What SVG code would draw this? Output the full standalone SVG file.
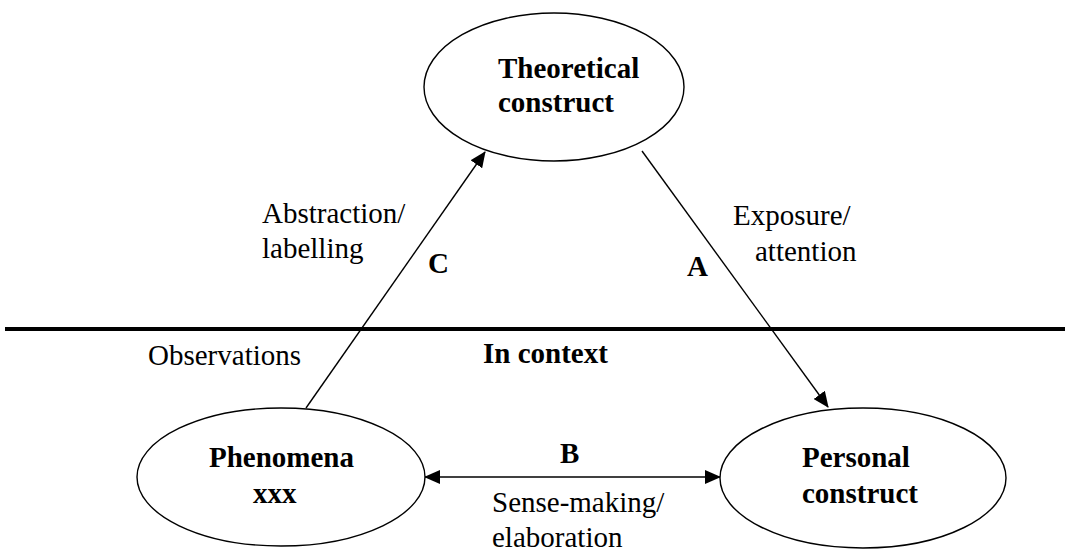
<svg xmlns="http://www.w3.org/2000/svg" width="1065" height="552" viewBox="0 0 1065 552">
<style>
.node ellipse{fill:#fff;stroke:#000;stroke-width:1.4}
text{font-family:'Liberation Serif','Times New Roman','DejaVu Serif',serif;font-size:29px;fill:#000}
.b{font-weight:bold}
.conn line{stroke:#000;stroke-width:1.4;fill:none}
</style>
<defs>
<marker id="ah" markerUnits="userSpaceOnUse" markerWidth="16" markerHeight="14" refX="15" refY="7" orient="auto-start-reverse" viewBox="0 0 16 14">
<path d="M0,0 L16,7 L0,14 z" fill="#000"/>
</marker>
</defs>
<rect width="1065" height="552" fill="#fff"/>
<line x1="5" y1="329" x2="1065" y2="329" stroke="#000" stroke-width="4"/>
<g class="conn">
<line x1="306" y1="408" x2="485" y2="152" marker-end="url(#ah)"/>
<line x1="642" y1="151" x2="828" y2="407" marker-end="url(#ah)"/>
<line x1="425" y1="477" x2="720" y2="477" marker-start="url(#ah)" marker-end="url(#ah)"/>
</g>
<g id="theoretical" class="node">
<ellipse cx="554" cy="87" rx="130" ry="74"/>
<text class="b" x="498" y="78" font-family="Liberation Serif, serif">Theoretical</text>
<text class="b" x="498" y="112" font-family="Liberation Serif, serif">construct</text>
</g>
<g id="phenomena" class="node">
<ellipse cx="281" cy="477" rx="144" ry="69"/>
<text class="b" x="209" y="467" font-family="Liberation Serif, serif">Phenomena</text>
<text class="b" x="253" y="503" font-family="Liberation Serif, serif">xxx</text>
</g>
<g id="personal" class="node">
<ellipse cx="863" cy="478" rx="143" ry="70"/>
<text class="b" x="802" y="467" font-family="Liberation Serif, serif">Personal</text>
<text class="b" x="802" y="503" font-family="Liberation Serif, serif">construct</text>
</g>
<g id="labels" font-family="Liberation Serif, serif">
<text x="262" y="223">Abstraction/</text>
<text x="262" y="258">labelling</text>
<text class="b" x="428" y="273">C</text>
<text x="733" y="225">Exposure/</text>
<text x="755" y="261">attention</text>
<text class="b" x="687" y="276">A</text>
<text x="148" y="365">Observations</text>
<text class="b" x="483" y="363">In context</text>
<text class="b" x="560" y="463">B</text>
<text x="492" y="512">Sense-making/</text>
<text x="492" y="547">elaboration</text>
</g>
</svg>
